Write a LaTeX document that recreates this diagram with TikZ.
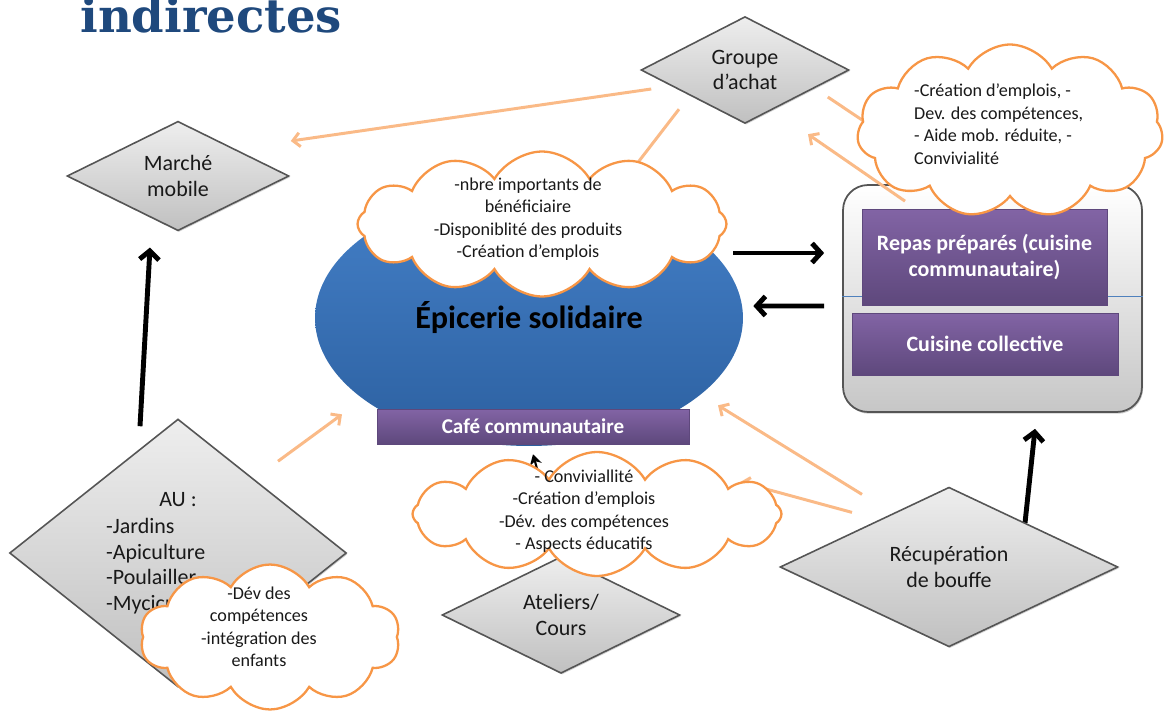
\documentclass[tikz,border=0pt]{standalone}
\usepackage{fontspec}
\setmainfont{Carlito}
\newfontfamily\titlefont{DejaVu Serif}
\usepackage{xcolor}
\usepackage{tikz}
\usetikzlibrary{shapes.geometric, shapes.symbols, arrows.meta, calc, shadows, backgrounds}
\definecolor{titleblue}{RGB}{31, 73, 125}
\definecolor{cloudorange}{RGB}{247, 150, 70}
\definecolor{linkorange}{RGB}{250, 186, 135}
\definecolor{purpletop}{RGB}{130, 100, 165}
\definecolor{purplebottom}{RGB}{94, 72, 124}
\definecolor{bluetop}{RGB}{68, 128, 200}
\definecolor{bluebottom}{RGB}{44, 96, 160}
\definecolor{greytop}{RGB}{238, 238, 238}
\definecolor{greybottom}{RGB}{192, 192, 192}
\definecolor{greyedge}{RGB}{85, 85, 85}
\definecolor{inkgrey}{RGB}{25, 25, 25}
\definecolor{ruleblue}{RGB}{79, 129, 189}

\begin{document}
\begin{tikzpicture}[x=0.02cm, y=-0.02cm,
    diamondbox/.style={diamond, draw=greyedge, line width=0.9pt, top color=greytop, bottom color=greybottom, inner sep=0pt, align=center, text=inkgrey, font=\fontsize{12.5}{14.6}\selectfont, drop shadow={shadow xshift=0.6pt, shadow yshift=-0.8pt, opacity=0.35}},
    puffcloud/.style={cloud, cloud puffs=11, cloud puff arc=120, cloud ignores aspect, draw=cloudorange, line width=1.3pt, fill=white, inner sep=0pt},
    cloudtext/.style={align=center, text=inkgrey, font=\fontsize{10.3}{12.8}\selectfont},
    purplebar/.style={rectangle, top color=purpletop, bottom color=purplebottom, draw=purplebottom, line width=0.3pt, text=white, align=center, font=\bfseries\fontsize{12.5}{14.8}\selectfont, drop shadow={shadow xshift=0.8pt, shadow yshift=-0.8pt, opacity=0.3}},
    orangelink/.style={draw=linkorange, line width=1.7pt, -{Straight Barb[length=4pt, width=8pt]}},
    blacklink/.style={draw=black, line width=2.8pt, -{Straight Barb[length=5pt, width=11pt]}}]

    \useasboundingbox (0,0) rectangle (1166,713);
    \clip (0,0) rectangle (1166,713);

    % title, cut by the top edge
    \node[anchor=base west, inner sep=0pt, text=titleblue, font=\titlefont\bfseries\fontsize{26.5}{30}\selectfont] (title) at (80,33) {indirectes};

    % centre
    \node[ellipse, top color=bluetop, bottom color=bluebottom, minimum width=8.56cm, minimum height=5.12cm, inner sep=0pt, font=\bfseries\fontsize{18.3}{20}\selectfont] (epicerie) at (529,318) {Épicerie solidaire};
    \node[purplebar, minimum width=6.24cm, minimum height=0.7cm, font=\bfseries\fontsize{12}{14}\selectfont] (cafe) at (533,426.5) {Café communautaire};

    % kitchen box on the right
    \node[rectangle, rounded corners=0.5cm, draw=greyedge, line width=1pt, top color=white, bottom color=greybottom!90, minimum width=5.98cm, minimum height=4.54cm, drop shadow={shadow xshift=0.6pt, shadow yshift=-1pt, opacity=0.4}] (kitchen) at (992.5,298.5) {};
    \draw[ruleblue, line width=0.5pt] ([yshift=0.05cm]kitchen.west) -- ([yshift=0.05cm]kitchen.east);
    \node[purplebar, minimum width=4.9cm, minimum height=1.92cm] (repas) at (984.5,257) {Repas préparés (cuisine\\communautaire)};
    \node[purplebar, minimum width=5.32cm, minimum height=1.24cm] (collective) at (985,344) {Cuisine collective};

    % diamonds
    \node[diamondbox, minimum width=4.44cm, minimum height=1.76cm] (marche) at (178,176) {Marché\\mobile};
    \node[diamondbox, minimum width=4.16cm, minimum height=2.12cm] (groupe) at (745,70) {Groupe\\d’achat};
    \node[diamondbox, minimum width=6.74cm, minimum height=5.36cm] (au) at (178,553) {};
    \node[text=inkgrey, font=\fontsize{12.5}{14.6}\selectfont] (autitle) at (178,500) {AU :};
    \node[anchor=west, align=left, text=inkgrey, font=\fontsize{12.5}{14.6}\selectfont] (aulist) at (100,566) {-Jardins\\-Apiculture\\-Poulailler\\-Myciculture};
    \node[diamondbox, minimum width=4.76cm, minimum height=2.28cm] (ateliers) at (561,615) {Ateliers/\\Cours};
    \node[diamondbox, minimum width=6.76cm, minimum height=2.42cm] (recup) at (949,567) {Récupération\\de bouffe};

    % clouds
    \node[puffcloud, cloud puffs=12, minimum width=7.38cm, minimum height=2.9cm] (cloudtop) at (542,224) {};
    \node[cloudtext] (cloudtoptext) at (528,219) {-nbre importants de\\bénéficiaire\\-Disponiblité des produits\\-Création d’emplois};
    \node[puffcloud, minimum width=6.12cm, minimum height=3.46cm] (cloudright) at (1010,131) {};
    \node[cloudtext, anchor=west, align=left] (cloudrighttext) at (908,124) {-Création d’emplois, -\\Dev. des compétences,\\- Aide mob. réduite, -\\Convivialité};
    \node[puffcloud, cloud puffs=12, minimum width=7.38cm, minimum height=2.48cm] (cloudbottom) at (597,514) {};
    \node[cloudtext] (cloudbottomtext) at (584,511) {- Conviviallité\\-Création d’emplois\\-Dév. des compétences\\- Aspects éducatifs};
    \node[puffcloud, cloud puffs=10, minimum width=5.2cm, minimum height=2.9cm] (cloudleft) at (270,637) {};
    \node[cloudtext] (cloudlefttext) at (259,627) {-Dév des\\compétences\\-intégration des\\enfants};

    % connectors, behind the shapes
    \begin{scope}[on background layer]
        \draw[orangelink] ($(groupe.west)+(11,19)$) -- ($(marche.east)+(1,-35)$);
        \draw[orangelink] ($(groupe.south)+(-66,-15)$) -- ($(epicerie.north)+(81,9)$);
        \draw[orangelink] ($(groupe.east)+(-22,27)$) -- ($(kitchen.north)+(-87,-35)$);
        \draw[orangelink] ($(au.north)+(100,43)$) -- ($(epicerie.south)+(-187,-32)$);
        \draw[orangelink] ($(recup.north)+(-87,8)$) -- ($(epicerie.south)+(189,-41)$);
        \draw[orangelink] ($(recup.north)+(-97,26)$) -- ($(cafe.east)+(51,55.5)$);

        \draw[blacklink] ($(au.north)+(-38,8)$) -- ($(marche.south)+(-28,16)$);
        \draw[blacklink] ($(epicerie.east)+(-10,-65)$) -- ($(kitchen.west)+(-18,-45.5)$);
        \draw[blacklink] ($(kitchen.west)+(-18,7.5)$) -- ($(epicerie.east)+(10,-12)$);
        \draw[blacklink] ($(recup.center)+(76,-44)$) -- ($(kitchen.south)+(42.5,16)$);
        \draw[black, line width=1.2pt, -{Stealth[length=6pt, width=7pt]}] (ateliers.north) -- ($(cafe.south)+(0,10)$);
    \end{scope}

    \draw[orangelink] ($(kitchen.north)+(-87.5,17)$) -- ($(groupe.south)+(63,10)$);
\end{tikzpicture}
\end{document}
